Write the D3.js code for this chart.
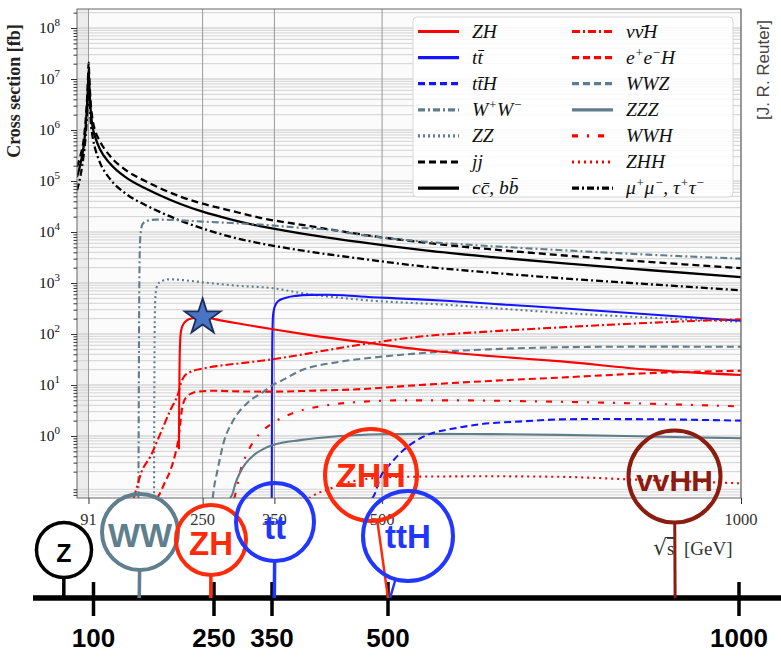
<!DOCTYPE html>
<html><head><meta charset="utf-8">
<script src="https://cdn.jsdelivr.net/npm/d3@7"></script>
<style>body{margin:0;background:#fff}svg{display:block}</style>
</head><body>
<svg id="c" width="781" height="663"></svg>
<script>
// ---------------- DATA ----------------
const xTicks = [91, 250, 350, 500, 1000];
const yExponents = [0, 1, 2, 3, 4, 5, 6, 7, 8];
const timelineTicks = [100, 250, 350, 500, 1000];

// [sqrt(s) GeV, cross section fb]
const ZH   = [[217.0,0.55],[217.3,3],[217.7,15],[218.3,50],[219.5,105],[222,145],[228,185],[236,203],[245,212],[250,213],[275,185],[300,160],[350,122],[400,95],[484,66],[563,48],[650,37],[750,29],[870,20],[1000,15.7]];
const tt   = [[346.3,0.06],[346.6,5],[347,60],[348,220],[350,330],[355,440],[365,510],[380,560],[400,585],[425,590],[450,570],[470,545],[520,500],[595,445],[680,370],[750,320],[850,255],[1000,182]];
const ttH  = [[486,0.06],[488,0.065],[498,0.16],[512,0.29],[530,0.53],[553,0.9],[567,1.1],[600,1.4],[637,1.7],[700,1.95],[750,2.12],[800,2.15],[870,2.13],[1000,2.0]];
const WW   = [[160.6,0.06],[161.0,3],[161.5,200],[162.2,3000],[163.5,9000],[166,14000],[172,16500],[185,17500],[210,17200],[250,16000],[290,15000],[330,14000],[380,12300],[432,10800],[470,8800],[563,6400],[650,5300],[750,4400],[870,3600],[1000,3000]];
const ZZ   = [[182.3,0.06],[182.7,5],[183.2,150],[184.5,600],[187,900],[193,1100],[205,1180],[220,1150],[250,1030],[300,880],[348,790],[386,640],[470,470],[595,370],[700,290],[750,260],[870,210],[1000,174]];
const jj   = [[75,190000],[80,320000],[84,600000],[87,1500000],[89,4000000],[90.3,10000000],[91.2,21000000],[92.2,10000000],[94,3500000],[97,1500000],[100,1000000],[107,600000],[121,310000],[144,160000],[170,100000],[191,72000],[220,49000],[250,36000],[290,26000],[330,19000],[400,13000],[470,9000],[563,6100],[650,4600],[750,3500],[870,2600],[1000,1950]];
const ccbb = [[75,120000],[80,220000],[84,450000],[87,1100000],[89,3000000],[90.3,7500000],[91.2,15000000],[92.2,7000000],[94,2500000],[97,1100000],[100,750000],[107,420000],[121,220000],[144,115000],[170,72000],[191,52000],[220,35000],[250,25000],[290,17500],[330,13000],[400,8800],[470,6300],[563,4300],[650,3250],[750,2450],[870,1800],[1000,1300]];
const nnH  = [[154,0.06],[156,0.075],[165,0.2],[177,0.39],[191,1.1],[205,3.2],[216,6.9],[220,11],[224,14.5],[233,18],[250,21],[275,24],[316,28],[348,32],[386,39],[430,50],[484,66],[553,89],[650,112],[749,135],[870,165],[1000,195]];
const eeH  = [[186,0.06],[188,0.065],[197,0.12],[205,0.21],[212,0.45],[216,0.83],[219,1.8],[221,3.2],[224,4.8],[228,5.9],[235,6.9],[242,7.4],[265,7.7],[300,7.5],[349,7.4],[400,7.7],[470,8.3],[553,10],[650,12],[749,14],[870,17],[1000,19]];
const WWZ  = [[264,0.06],[266,0.1],[270,0.19],[279,0.72],[293,2.05],[312,4.4],[335,7.4],[349,10.3],[358,11.8],[386,19],[442,28.6],[498,35.7],[553,42],[650,50],[749,55],[870,56.5],[1000,56]];
const ZZZ  = [[288,0.06],[291,0.07],[296,0.12],[302,0.19],[310,0.29],[321,0.42],[335,0.56],[349,0.67],[386,0.83],[442,1.0],[498,1.08],[553,1.1],[650,1.09],[749,1.05],[870,0.98],[1000,0.9]];
const WWH  = [[294,0.06],[298,0.1],[302,0.19],[312,0.46],[326,0.97],[347,1.77],[370,2.6],[423,4.0],[474,4.7],[530,5.0],[600,5.0],[700,4.8],[777,4.6],[870,4.3],[1000,3.8]];
const ZHH  = [[398,0.06],[410,0.075],[423,0.087],[440,0.11],[460,0.13],[480,0.145],[510,0.155],[560,0.16],[650,0.162],[750,0.158],[850,0.14],[1000,0.118]];
const mumu = [[75,66000],[80,130000],[84,300000],[87,750000],[89,2000000],[90.3,5000000],[91.2,10000000],[92.2,5000000],[94,1600000],[97,700000],[100,450000],[107,230000],[121,110000],[144,55000],[170,34000],[191,24500],[220,16500],[250,11700],[290,8000],[330,6000],[400,4100],[470,3000],[563,2070],[650,1600],[750,1240],[870,950],[1000,720]];

const starPoint = [250, 213];

const legendCol1 = ["ZH", "tt\u0304", "tt\u0304H", "W^{+}W^{\u2212}", "ZZ", "jj", "cc\u0304, bb\u0304"];
const legendCol2 = ["\u03bd\u03bd\u0304H", "e^{+}e^{\u2212}H", "WWZ", "ZZZ", "WWH", "ZHH", "\u03bc^{+}\u03bc^{\u2212}, \u03c4^{+}\u03c4^{\u2212}"];

const bubbleLabels = ["Z", "WW", "ZH", "tt", "ZHH", "ttH", "vvHH"];
const bubbleEnergies = [63, 157, 246, 353, 500, 503, 909];

// ---------------- STYLES / LAYOUT ----------------
const RED = "#ff0000", BLUE = "#1414ff", GREY = "#607d8b", BLACK = "#000";
const seriesCol1 = [
  {d: ZH, c: RED, dash: null},
  {d: tt, c: BLUE, dash: null},
  {d: ttH, c: BLUE, dash: "7,4"},
  {d: WW, c: GREY, dash: "7,3,2,3"},
  {d: ZZ, c: GREY, dash: "2,3"},
  {d: jj, c: BLACK, dash: "7,4"},
  {d: ccbb, c: BLACK, dash: null}
];
const seriesCol2 = [
  {d: nnH, c: RED, dash: "8,3,2,3"},
  {d: eeH, c: RED, dash: "7,4"},
  {d: WWZ, c: GREY, dash: "7,4"},
  {d: ZZZ, c: GREY, dash: null},
  {d: WWH, c: RED, dash: "6,9,2,9"},
  {d: ZHH, c: RED, dash: "2,4"},
  {d: mumu, c: BLACK, dash: "7,3,2,3"}
];

const W = 781, H = 663;
const P = {l: 77, r: 741, t: 9, b: 498};
const x = d3.scaleLinear().domain([75, 1000]).range([P.l, P.r]);
const y = d3.scaleLog().domain([0.0608, 2.36e8]).range([P.b, P.t]);
const tl = d3.scaleLinear().domain(timelineTicks).range([93.5, 214, 272, 388, 739]);

const svg = d3.select("#c");
const SERIF = "'Liberation Serif','Times New Roman',serif";
const SANS = "'Liberation Sans',Arial,sans-serif";

svg.append("defs").append("clipPath").attr("id", "pc")
  .append("rect").attr("x", P.l).attr("y", P.t).attr("width", P.r - P.l).attr("height", P.b - P.t);

// background
svg.append("rect").attr("x", P.l).attr("y", P.t).attr("width", P.r - P.l).attr("height", P.b - P.t).attr("fill", "#fbfbfb");
svg.append("rect").attr("x", x(75)).attr("y", P.t).attr("width", x(91) - x(75)).attr("height", P.b - P.t).attr("fill", "#ececec");

// grid
const majors = yExponents.map(e => Math.pow(10, e));
const minors = [];
for (let e = -2; e <= 8; e++) for (let m = 2; m <= 9; m++) {
  const v = m * Math.pow(10, e);
  if (v > y.domain()[0] && v < y.domain()[1]) minors.push(v);
}
const grid = svg.append("g");
grid.selectAll(".mn").data(minors).join("line")
  .attr("x1", P.l).attr("x2", P.r).attr("y1", d => y(d)).attr("y2", d => y(d))
  .attr("stroke", "#d2d2d2").attr("stroke-width", 1);
grid.selectAll(".mj").data(majors).join("line")
  .attr("x1", P.l).attr("x2", P.r).attr("y1", d => y(d)).attr("y2", d => y(d))
  .attr("stroke", "#c4c4c4").attr("stroke-width", 1);
grid.selectAll(".vx").data(xTicks).join("line")
  .attr("x1", d => x(d)).attr("x2", d => x(d)).attr("y1", P.t).attr("y2", P.b)
  .attr("stroke", "#9a9a9a").attr("stroke-width", 1);

// curves
const line = d3.line().x(d => x(d[0])).y(d => y(d[1])).curve(d3.curveMonotoneX);
const cg = svg.append("g").attr("clip-path", "url(#pc)");
const drawOrder = [ccbb, jj, mumu, WW, ZZ, tt, nnH, eeH, WWZ, ZH, WWH, ZZZ, ttH, ZHH];
const allSeries = seriesCol1.concat(seriesCol2);
drawOrder.forEach(arr => {
  const s = allSeries.find(q => q.d === arr);
  cg.append("path").attr("d", line(s.d)).attr("fill", "none")
    .attr("stroke", s.c).attr("stroke-width", s.c === BLACK ? 2.3 : 2.1)
    .attr("stroke-dasharray", s.dash);
});

// star
svg.append("path")
  .attr("d", d3.symbol().type(d3.symbolStar).size(400)())
  .attr("transform", `translate(${x(starPoint[0])},${y(starPoint[1])})`)
  .attr("fill", "#4a74c4").attr("stroke", "#1c2f5a").attr("stroke-width", 1.8);

// frame
svg.append("rect").attr("x", P.l).attr("y", P.t).attr("width", P.r - P.l).attr("height", P.b - P.t)
  .attr("fill", "none").attr("stroke", "#666").attr("stroke-width", 1);

// axes ticks
const ay = svg.append("g").attr("transform", `translate(${P.l},0)`);
ay.call(d3.axisLeft(y).tickValues(majors).tickSize(6).tickFormat(""));
ay.call(g => g.select(".domain").remove());
const ay2 = svg.append("g").attr("transform", `translate(${P.l},0)`);
ay2.call(d3.axisLeft(y).tickValues(minors).tickSize(3.5).tickFormat(""));
ay2.call(g => g.select(".domain").remove());
svg.selectAll(".tick line").attr("stroke", "#333");
const ax = svg.append("g").attr("transform", `translate(0,${P.b})`);
ax.call(d3.axisBottom(x).tickValues(xTicks).tickSize(6).tickFormat(""));
ax.call(g => g.select(".domain").remove());
ax.selectAll(".tick line").attr("stroke", "#333");

// y tick labels
yExponents.forEach(e => {
  const t = svg.append("text").attr("x", 39).attr("y", y(Math.pow(10, e)) + 5)
    .attr("font-family", SERIF).attr("font-size", 15.5).attr("fill", "#111");
  t.append("tspan").text("10");
  t.append("tspan").attr("dy", -7).attr("font-size", 11).text(e);
});
// x tick labels
svg.selectAll(".xl").data(xTicks).join("text")
  .attr("x", d => x(d)).attr("y", 525).attr("text-anchor", "middle")
  .attr("font-family", SERIF).attr("font-size", 16.5).attr("fill", "#333").text(d => d);
// x axis title: sqrt(s) [GeV]
const xt = svg.append("text").attr("x", 653).attr("y", 555).attr("text-anchor", "start")
  .attr("font-family", SERIF).attr("font-size", 19).attr("fill", "#333");
xt.append("tspan").attr("font-family", "'DejaVu Serif',serif").attr("font-size", 22).text("\u221a");
xt.append("tspan").style("text-decoration", "overline").text("s");
xt.append("tspan").text("\u2002[GeV]");

// y axis title
svg.append("text").attr("transform", "translate(20,91) rotate(-90)").attr("text-anchor", "middle")
  .attr("font-family", SERIF).attr("font-weight", "bold").attr("font-size", 18).attr("fill", "#222")
  .text("Cross section [fb]");
// credit
svg.append("text").attr("transform", "translate(769,70) rotate(-90)").attr("text-anchor", "middle")
  .attr("font-family", SANS).attr("font-size", 17).attr("fill", "#444").text("[J. R. Reuter]");

// legend
const lg = svg.append("g");
lg.append("rect").attr("x", 413).attr("y", 17).attr("width", 320).attr("height", 180).attr("rx", 4)
  .attr("fill", "#fff").attr("fill-opacity", 0.85).attr("stroke", "#d8d8d8");
function richText(sel, str) {
  const parts = str.split(/(\^\{[^}]*\})/).filter(p => p.length);
  let raised = false;
  parts.forEach(p => {
    if (p.startsWith("^{")) {
      sel.append("tspan").attr("dy", raised ? 0 : -7).attr("font-size", 13).text(p.slice(2, -1));
      raised = true;
    } else {
      sel.append("tspan").attr("dy", raised ? 7 : 0).text(p);
      raised = false;
    }
  });
}
[[seriesCol1, legendCol1, 418], [seriesCol2, legendCol2, 572]].forEach(([ser, labs, x0]) => {
  ser.forEach((s, i) => {
    const yy = 31.5 + i * 26.1;
    lg.append("line").attr("x1", x0).attr("x2", x0 + 41).attr("y1", yy).attr("y2", yy)
      .attr("stroke", s.c).attr("stroke-width", 3.2).attr("stroke-dasharray", s.dash);
    const t = lg.append("text").attr("x", x0 + 54).attr("y", yy + 6)
      .attr("font-family", SERIF).attr("font-style", "italic").attr("font-size", 19.5).attr("fill", "#111");
    richText(t, labs[i]);
  });
});

// ---------------- TIMELINE ----------------
const TLY = 598;
svg.append("line").attr("x1", 33).attr("x2", W).attr("y1", TLY).attr("y2", TLY)
  .attr("stroke", "#000").attr("stroke-width", 5.5);
svg.selectAll(".tt").data(timelineTicks).join("line")
  .attr("x1", d => tl(d)).attr("x2", d => tl(d)).attr("y1", 582).attr("y2", 616)
  .attr("stroke", "#000").attr("stroke-width", 3.5);
svg.selectAll(".tlab").data(timelineTicks).join("text")
  .attr("x", d => tl(d)).attr("y", 647).attr("text-anchor", "middle")
  .attr("font-family", SANS).attr("font-weight", "bold").attr("font-size", 26).attr("fill", "#000").text(d => d);

// bubble layout (pixel positions)
const bubbleLayout = [
  {cx: 64, cy: 550, r: 27.5, col: "#000", fs: 25, by: 562, sw: 3.5, stemW: 3.5},
  {cx: 140, cy: 532, r: 38, col: "#5f7f8e", fs: 34, by: 547, sw: 4, stemW: 3.5},
  {cx: 211, cy: 540, r: 35, col: "#ff2a0a", fs: 33, by: 555, sw: 4, stemW: 3.5},
  {cx: 275, cy: 522, r: 39, col: "#2137ff", fs: 33, by: 539, sw: 4, stemW: 3.5},
  {cx: 371, cy: 475, r: 46, col: "#ff2a0a", fs: 34, by: 487, sw: 4, stemW: 2.5},
  {cx: 408, cy: 536, r: 45, col: "#2137ff", fs: 33, by: 548, sw: 4, stemW: 2.5},
  {cx: 674.5, cy: 476.5, r: 46, col: "#8c1c10", fs: 30, by: 491, sw: 4, stemW: 3}
];
bubbleLabels.forEach((lab, i) => {
  const L = bubbleLayout[i];
  const bx = tl(bubbleEnergies[i]);
  const dx = bx - L.cx, dy = TLY - L.cy, len = Math.hypot(dx, dy);
  svg.append("line").attr("x1", L.cx + dx / len * L.r).attr("y1", L.cy + dy / len * L.r)
    .attr("x2", bx).attr("y2", TLY).attr("stroke", L.col).attr("stroke-width", L.stemW);
  svg.append("circle").attr("cx", L.cx).attr("cy", L.cy).attr("r", L.r)
    .attr("fill", "none").attr("stroke", L.col).attr("stroke-width", L.sw);
  svg.append("text").attr("x", L.cx).attr("y", L.by).attr("text-anchor", "middle")
    .attr("font-family", SANS).attr("font-weight", "bold").attr("font-size", L.fs)
    .attr("fill", L.col).text(lab);
});
</script>
</body></html>
